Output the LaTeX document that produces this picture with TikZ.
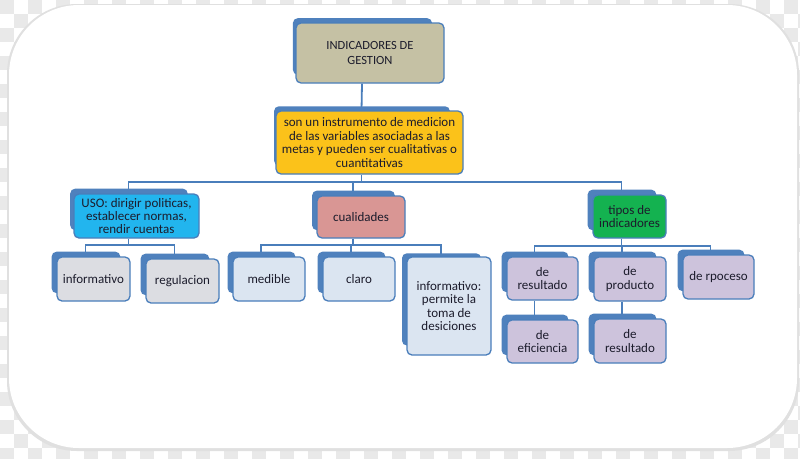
\documentclass[tikz,border=0pt]{standalone}
\usepackage{fontspec}
\setmainfont{Carlito}
\usetikzlibrary{shadows}
\definecolor{lineblue}{HTML}{4A7EBB}
\definecolor{backblue}{HTML}{4F81BD}
\definecolor{txt}{HTML}{1C1C2C}
\definecolor{tanc}{HTML}{C5C1A4}
\definecolor{gold}{HTML}{FBC21A}
\definecolor{cyanc}{HTML}{22B5EE}
\definecolor{pinkc}{HTML}{D99694}
\definecolor{greenc}{HTML}{14B250}
\definecolor{grayc}{HTML}{DCDDE2}
\definecolor{lblue}{HTML}{DBE5F1}
\definecolor{lav}{HTML}{CDC3DC}
\definecolor{chk}{HTML}{E9E9E9}
\pgfdeclarelayer{card}
\pgfdeclarelayer{edges}
\pgfsetlayers{card,edges,main}
\begin{document}
\begin{tikzpicture}[x=1pt,y=-1pt,
  box/.style={draw=lineblue, line width=1.3pt, rounded corners=5pt, align=center,
    text=txt, font=\fontsize{13}{13.4}\selectfont, inner sep=1pt,
    general shadow={fill=backblue, shadow xshift=-8pt, shadow yshift=7pt, shadow scale=0.94}},
  conn/.style={draw=lineblue, line width=1.8pt}]
\useasboundingbox (0,0) rectangle (800,458);
\begin{pgfonlayer}{card}
  \fill[white] (0,0) rectangle (800,458);
  \foreach \i in {0,28,...,798} \foreach \j in {0,28,...,456} {
    \fill[chk] (\i,\j) rectangle ++(14,14);
    \fill[chk] (\i+14,\j+14) rectangle ++(14,14);
  }
  \fill[black!12, rounded corners=70pt] (7,4) rectangle (799,451);
  \fill[white, rounded corners=70pt] (9,5) rectangle (797,448);
\end{pgfonlayer}

\node[box, fill=tanc, minimum width=148pt, minimum height=60pt, font=\fontsize{12.5}{15}\selectfont] (top) at (370,53) {INDICADORES DE\\GESTION};
\node[box, fill=gold, minimum width=187pt, minimum height=63pt] (yellow) at (369.5,142.5) {son un instrumento de medicion\\de las variables asociadas a las\\metas y pueden ser cualitativas o\\cuantitativas};
\node[box, fill=cyanc, minimum width=125pt, minimum height=44pt] (uso) at (136.5,216) {USO: dirigir politicas,\\establecer normas,\\rendir cuentas};
\node[box, fill=pinkc, minimum width=88pt, minimum height=42pt] (cual) at (361,217) {cualidades};
\node[box, fill=greenc, minimum width=73pt, minimum height=43pt] (tipos) at (629.5,216.5) {tipos de\\indicadores};
\node[box, fill=grayc, minimum width=73pt, minimum height=44pt] (inf1) at (93.5,279) {informativo};
\node[box, fill=grayc, minimum width=73pt, minimum height=44pt] (reg) at (182.5,281) {regulacion};
\node[box, fill=lblue, minimum width=72pt, minimum height=44pt] (med) at (269,279) {medible};
\node[box, fill=lblue, minimum width=72pt, minimum height=44pt] (claro) at (359,279) {claro};
\node[box, fill=lblue, minimum width=84pt, minimum height=98pt] (infperm) at (449,306) {informativo:\\permite la\\toma de\\desiciones};
\node[box, fill=lav, minimum width=71pt, minimum height=43pt] (deres) at (542.5,278.5) {de\\resultado};
\node[box, fill=lav, minimum width=71pt, minimum height=43pt] (deef) at (542.5,341.5) {de\\eficiencia};
\node[box, fill=lav, minimum width=72pt, minimum height=44pt] (deprod) at (630,279) {de\\producto};
\node[box, fill=lav, minimum width=72pt, minimum height=44pt] (deres2) at (630,341) {de\\resultado};
\node[box, fill=lav, minimum width=71pt, minimum height=44pt] (deproc) at (718.5,277) {de rpoceso};

\begin{pgfonlayer}{edges}
  \draw[conn] ([xshift=-8pt]top.south) -- ([xshift=-8pt]yellow.north);
  \coordinate (b1) at ([xshift=-8pt,yshift=-7pt]yellow.south);
  \draw[conn] ([xshift=-8pt]yellow.south) -- (b1);
  \draw[conn] ([xshift=-8pt]uso.north) |- (b1) -| ([xshift=-8pt]tipos.north);
  \draw[conn] ([xshift=-8pt]cual.north) -- ([xshift=-8pt]cual.north |- b1);
  \coordinate (b2) at ([xshift=-8pt,yshift=-6pt]uso.south);
  \draw[conn] ([xshift=-8pt]uso.south) -- (b2);
  \draw[conn] ([xshift=-8pt]inf1.north) |- (b2) -| ([xshift=-8pt]reg.north);
  \coordinate (b3) at ([xshift=-8pt,yshift=-6pt]cual.south);
  \draw[conn] ([xshift=-8pt]cual.south) -- (b3);
  \draw[conn] ([xshift=-8pt]med.north) |- (b3) -| ([xshift=-8pt]infperm.north);
  \draw[conn] ([xshift=-8pt]claro.north) -- ([xshift=-8pt]claro.north |- b3);
  \coordinate (b4) at ([xshift=-8pt,yshift=-7pt]tipos.south);
  \draw[conn] ([xshift=-8pt]tipos.south) -- (b4);
  \draw[conn] ([xshift=-8pt]deres.north) |- (b4) -| ([xshift=-8pt]deproc.north);
  \draw[conn] ([xshift=-8pt]deprod.north) -- ([xshift=-8pt]deprod.north |- b4);
  \draw[conn] ([xshift=-8pt]deres.south) -- ([xshift=-8pt]deef.north);
  \draw[conn] ([xshift=-8pt]deprod.south) -- ([xshift=-8pt]deres2.north);
\end{pgfonlayer}
\end{tikzpicture}
\end{document}
